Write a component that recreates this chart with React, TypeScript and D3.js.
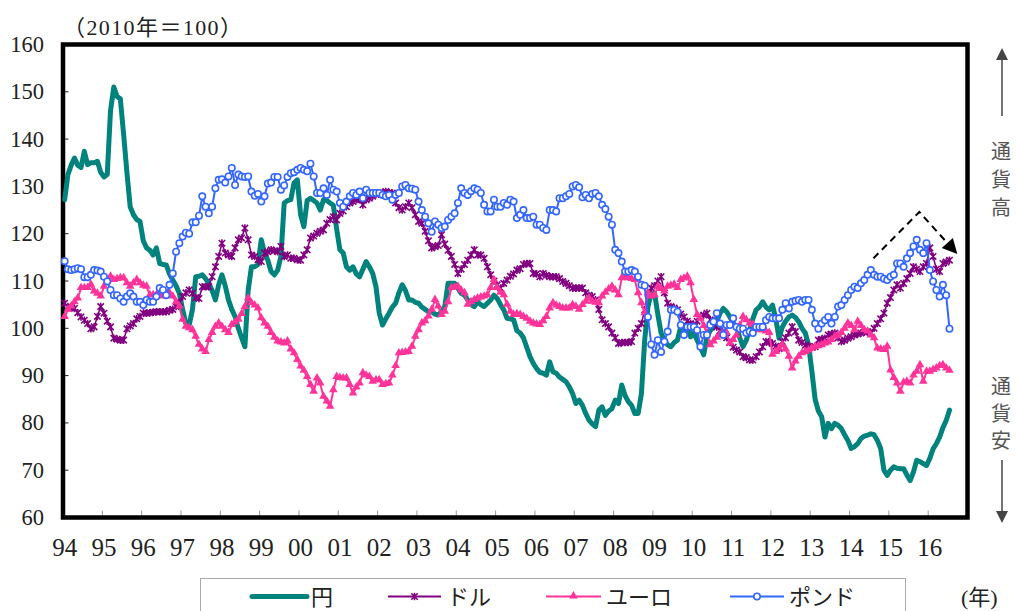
import React from "react";
import * as d3 from "d3";

// Monthly data, Jan 1994 – Jul 2016 (2010 = 100)
const yearLabels = ["94","95","96","97","98","99","00","01","02","03","04","05","06","07","08","09","10","11","12","13","14","15","16"];
const yTicks = [60, 70, 80, 90, 100, 110, 120, 130, 140, 150, 160];
const seriesNames = ["円", "ドル", "ユーロ", "ポンド"];

const yen = [
  127.2, 132.5, 134.5, 136, 134.5, 134, 137.4, 134.6, 135, 135, 135.3, 133,
  132, 132.5, 146, 151, 149, 148.5, 141, 133, 125.7, 124, 123, 122.6,
  118.5, 117, 116.5, 115.5, 117, 113.7, 113.5, 113.4, 111.5, 110.2, 109, 107.4,
  104, 101, 100.7, 104, 110.9, 111, 111.3, 110.5, 109.5, 108, 106, 109.2,
  111.3, 109, 106, 104, 102.5, 100, 98, 96.1, 108, 113, 113, 113.5,
  118.7, 116, 114.4, 112, 111.3, 112.3, 115.2, 126.5, 127, 127.2, 130.7, 131.4,
  124, 121.5, 127, 127.5, 127, 126.5, 125, 127.2, 127, 126.5, 126, 121,
  116.6, 115.9, 113, 112.3, 113, 111.5, 110.9, 112.5, 114.1, 113, 111.6, 108.8,
  103.2, 100.7, 102, 103.2, 104.5, 105.3, 107.5, 109.2, 108, 106, 106, 105.5,
  105.3, 104.5, 104, 103.5, 103.5, 103, 102.8, 103.5, 104.6, 109.5, 109.5, 109.5,
  108.5, 107.4, 107, 106, 105, 104.6, 105.6, 105, 104.6, 105.3, 106, 107,
  106.3, 105, 103.9, 102.1, 102, 101.8, 99.5, 99, 98, 96, 94, 92.6,
  91.5, 90.7, 90.5, 90.1, 92.9, 90.8, 90.5, 89.7, 89.2, 88.7, 87.6, 86.2,
  84.1, 84.8, 83.7, 82, 80.6, 79.8, 79.2, 82.7, 83.4, 81.6, 82.5, 83,
  84.8, 84.1, 88, 85.8, 84.5, 83.7, 82, 82, 86.2, 97.5, 104.6, 107.4,
  107.4, 103, 99, 97.5, 96.5, 96.1, 97, 97.5, 100.3, 99.3, 101, 98.2,
  99, 97.5, 96, 94.4, 98.2, 99.5, 100.3, 101.4, 103.2, 104.2, 103.5, 102.4,
  101, 100.5, 98, 96.1, 97.5, 99.6, 102, 103.9, 104.5, 105.6, 104.5, 103.9,
  104.9, 102, 97.9, 100.3, 101.5, 102.4, 102.8, 102.3, 101.4, 100, 99, 96.5,
  91, 85, 82.5, 81.3, 77, 79.9, 78.8, 79.9, 79.5, 78.8, 77.5, 76.3,
  74.6, 75, 75.6, 76.7, 77.2, 77.4, 77.7, 77.5, 76.3, 74.6, 70, 68.9,
  70, 70.7, 70.4, 70.3, 70.3, 69, 67.8, 69.6, 72.1, 71.8, 71.4, 71,
  72.5, 74.5, 75.6, 77, 79, 80.5, 82.7,
];

const usd = [
  105.3, 104.6, 104.4, 104.2, 103.3, 102.4, 101.7, 101, 99.9, 100.3, 102.5, 104.6,
  103.2, 101.5, 100.3, 97.9, 97.7, 97.5, 97.5, 99.9, 100.5, 101, 102, 102.5,
  103.2, 103.2, 103.3, 103.4, 103.5, 103.5, 103.5, 103.5, 103.8, 104, 104.6, 105.5,
  106.7, 107.5, 108.1, 107.4, 106.5, 106.3, 108.8, 108.8, 108.8, 110.9, 113, 115.2,
  118, 115.9, 115.5, 115.2, 117, 118.7, 119.1, 121.2, 118.7, 115.5, 115.2, 114.5,
  114.1, 115.9, 116.2, 116.6, 116.4, 116.2, 117.3, 115.2, 115.5, 114.8, 114.8, 114.5,
  114.4, 115.5, 116.6, 119.1, 119.5, 120.1, 120.5, 120.8, 122.2, 123, 123.6, 122.9,
  124.3, 124.8, 125.7, 126.5, 126.8, 127.2, 127.2, 126.1, 127.2, 127.5, 127.9, 128.3,
  128.5, 128.7, 128.9, 128.7, 128.6, 126.5, 125.5, 125, 125.7, 126.5, 125.5, 124,
  122.6, 122.2, 120.5, 118.5, 117, 117.3, 117.5, 119.8, 117.8, 116.5, 115.2, 113.5,
  111.6, 112.5, 113.5, 114.4, 115.5, 116.6, 115.5, 115.5, 114.8, 113, 111.3, 110,
  109.2, 108.5, 109.5, 110.2, 111, 111.5, 112.3, 112.6, 113.5, 113.7, 113.7, 111.6,
  111.5, 110.9, 111.6, 111.2, 110.9, 110.9, 110.9, 110.5, 109.9, 109.5, 109, 108.5,
  108.5, 108.5, 108.5, 107.5, 107, 106.7, 106, 104, 101.8, 101, 100.3, 99,
  98, 96.8, 97, 97, 97, 97.2, 99, 100, 101, 103.9, 107.4, 108.5,
  109, 110, 110.9, 107.5, 105.3, 104.6, 104.3, 103.9, 103, 102.4, 101.5, 101,
  100.7, 101.5, 102.4, 102.8, 103.2, 101.8, 101, 100.3, 99.5, 99, 98, 97,
  96, 95.4, 95, 94, 93.8, 93.3, 93.3, 94, 95, 96.1, 97.2, 97,
  96.8, 96.2, 95.7, 97.2, 98, 99, 100.3, 99.3, 97.5, 97, 96.4, 96.2,
  96, 96.1, 97.5, 97.7, 97.9, 98.6, 98.8, 99, 98, 97.2, 97.5, 97.9,
  98.2, 98.6, 98.8, 99, 99.2, 99.3, 99, 100, 101, 102, 103.2, 105.3,
  106.5, 108.1, 109.2, 108.5, 109.5, 110.5, 111.6, 113, 112.5, 112, 113, 113.7,
  117, 115.2, 112.5, 112, 113.7, 114, 114.4,
];

const euro = [
  102.4, 103.9, 104.6, 105.5, 106.3, 108.5, 108.5, 108.5, 109.2, 107.8, 107.3, 106.7,
  108.8, 110, 110.9, 110.2, 110.4, 110.6, 110.6, 109.5, 108.8, 109.5, 110.2, 109.5,
  109, 108.8, 107, 107, 107, 107, 106.7, 107, 107.4, 106.7, 105.5, 104.6,
  101.8, 100.3, 100, 99.6, 98.2, 96.5, 95.5, 95, 97.5, 99, 100.3, 101,
  100.3, 99.6, 99, 100.7, 101.2, 101.8, 103, 104.5, 106.3, 105.3, 104.8, 104.2,
  102.1, 101, 100.3, 99, 98, 97.2, 97, 96.8, 97.2, 95.5, 94.7, 93.3,
  91.9, 91, 89.7, 88, 86.6, 89.4, 88.3, 85.5, 84.5, 83.4, 86.9, 89.7,
  89.5, 89.4, 89.4, 88, 86.2, 87.5, 88.3, 90.5, 90, 89.7, 88.7, 89,
  89, 88, 88.2, 88.3, 90, 92, 94.7, 94.8, 94.9, 95, 96.1, 98.2,
  99.6, 101, 101.5, 102.5, 103.9, 106, 104.6, 102.8, 103.5, 105.5, 108.5, 108.6,
  108.8, 108, 107.4, 105, 105.5, 106, 106.3, 106.5, 106.7, 107, 108.5, 110.2,
  108.5, 107.5, 107, 105, 103.5, 102.8, 103, 102.8, 102.4, 102, 101.4, 101,
  100.8, 100.7, 101.5, 102.4, 104.2, 105.3, 104.8, 104.5, 104.2, 104.2, 104.2, 104.9,
  104.5, 103.9, 104.9, 105.6, 106.3, 105.6, 105.4, 105.3, 106.7, 107.5, 108.2, 108.8,
  108, 107, 110.6, 110.9, 110.6, 110.4, 110.2, 107.4, 105.3, 103.2, 107.4, 106.7,
  107, 108.8, 108.3, 107.8, 108.8, 109, 109.2, 108.5, 110.2, 110.5, 110.9, 109.5,
  106, 102.8, 102, 100.5, 99, 96.4, 97.2, 98, 98.6, 98.6, 99, 96.8,
  97.5, 98.5, 100.5, 102.4, 101.7, 101, 100.7, 100, 99.6, 99.6, 99.3, 99,
  94.4, 95, 95.7, 96.4, 95.5, 94, 91.5, 93, 94, 94.7, 95, 95.3,
  95.7, 96.1, 96.2, 96.4, 96.8, 97, 97.5, 98.2, 98.5, 99, 99.9, 101,
  100.5, 99.6, 101.4, 100.5, 99.6, 99.3, 98.5, 97.9, 95.7, 95.5, 95.4, 96.1,
  91.1, 89.5, 88.3, 86.6, 88.5, 88.7, 88.3, 90, 90.8, 92.2, 88.7, 90.8,
  90.8, 91.2, 91.5, 92, 92.2, 91.5, 91,
];

const pound = [
  114.2, 112.5, 112.3, 112.5, 112.7, 112.5, 110.8, 110.8, 111.3, 112.3, 112.2, 112,
  110.9, 109.9, 108.1, 107, 107, 106.3, 105.6, 106.7, 107.4, 106.7, 105.6, 105.6,
  104.9, 106, 105.6, 105.6, 106.7, 108.5, 108.1, 107, 109.2, 111.6, 116.2, 118,
  119.4, 120.2, 120, 122.4, 122.4, 123.8, 127.9, 125.7, 124.3, 125.7, 129.6, 131.4,
  131.5, 130.8, 132.1, 133.9, 130.3, 132.5, 132.1, 132, 132.1, 128.9, 128, 128.4,
  126.8, 127.9, 130.6, 130.8, 132, 132, 129.3, 130.2, 132, 132.8, 133, 133.5,
  133.9, 133.5, 133.2, 134.8, 132.1, 128.6, 128.6, 129.6, 128.2, 131.4, 129.3, 128.9,
  126.5, 125.7, 126.8, 127.9, 128.6, 128.2, 128.9, 127.5, 129.3, 128.6, 128.6, 128.6,
  128.6, 128.2, 127.9, 128.2, 127.2, 128.2, 128.6, 130, 130.3, 129.6, 129.5, 129.3,
  126.8, 125, 123.6, 122.2, 120.4, 122.6, 121.9, 121.2, 121.5, 122.9, 123.6, 124.3,
  126.5, 129.6, 128.6, 128.2, 129, 129.6, 129.3, 128.6, 126.1, 124.7, 124.7, 127.2,
  125.7, 125.7, 126.5, 126.1, 127.2, 126.8, 123.3, 124, 125, 123.3, 123.3, 123.6,
  121.9, 121.9, 121.2, 120.8, 125, 125, 124.7, 127.5, 127.5, 127.9, 128.4, 130,
  130.3, 129.8, 127.7, 128.2, 127.5, 128.4, 128.6, 127.9, 126.1, 125.2, 123.6, 121.9,
  116.6, 115.9, 114.1, 112, 112, 112.3, 112, 110.9, 109.2, 109, 102.4, 96.6,
  94.4, 97.5, 95, 97.2, 99.3, 103.9, 103.9, 103.5, 100.7, 98.6, 100.3, 100.3,
  100.3, 99.6, 96.1, 98.6, 98.6, 100.7, 101.4, 103.2, 101, 98.6, 100.7, 100.7,
  102.1, 100.3, 99.9, 99.9, 99, 99.3, 99, 100.3, 100.3, 100.3, 101.7, 102.4,
  102.1, 102.1, 102.1, 103.9, 105.3, 104.2, 105.6, 105.8, 106, 105.6, 106, 106,
  103.9, 101, 99.9, 101, 101.7, 102.4, 101, 102.4, 104.6, 104.9, 106, 107,
  108.1, 108.8, 108.5, 109.5, 110.2, 111.3, 112.3, 111.3, 110.9, 110.9, 110.5, 110.2,
  110.9, 111.3, 113.7, 113.7, 113, 114.8, 115.9, 117.3, 118.7, 116.6, 115.9, 118,
  112.3, 109.9, 108.1, 106.7, 109.2, 107, 99.9,
];

// Dashed annotation arrow (month index, value)
const annoMonths = [247.3, 261.3, 272.9];
const annoValues = [114.8, 124.6, 115.7];

const upLabel = ["通", "貨", "高"];
const downLabel = ["通", "貨", "安"];

const COLORS = ["#00827D", "#800080", "#FF3399", "#3366FF"];
const SERIF = "'Liberation Serif', 'Noto Sans CJK JP', serif";
const CJK = "'Noto Sans CJK JP', sans-serif";

const starPath = "M-3.2,-3.2L3.2,3.2M-3.2,3.2L3.2,-3.2M0,-3.8V3.8";
const triPath = d3.symbol().type(d3.symbolTriangle).size(32)() as string;

export default function App() {
  const W = 1016, H = 611;
  const left = 63, right = 967.5, top = 44.5, bottom = 517.5;
  const totalMonths = yearLabels.length * 12;
  const x = d3.scaleLinear().domain([0, totalMonths]).range([left, right]);
  const y = d3.scaleLinear().domain([60, 160]).range([bottom, top]);
  const line = d3.line<number>().x((_, i) => x(i + 0.5)).y((v) => y(v));

  // annotation
  const ap = annoMonths.map((m, i) => [x(m), y(annoValues[i])] as [number, number]);
  const [tx, ty] = ap[2];
  const [px, py] = ap[1];
  const dx = tx - px, dy = ty - py;
  const len = Math.hypot(dx, dy);
  const ux = dx / len, uy = dy / len;
  const headL = 15, headW = 7.5;
  const bx = tx - ux * headL, by = ty - uy * headL;
  const head = `M${tx},${ty}L${bx - uy * headW},${by + ux * headW}L${bx + uy * headW},${by - ux * headW}Z`;
  const annoLine = d3.line()([ap[0], ap[1], [bx + ux * 2, by + uy * 2]]) as string;

  const legendItems = [
    { x0: 252, x1: 307, tx: 311 },
    { x0: 388, x1: 441, tx: 447 },
    { x0: 546, x1: 601, tx: 606 },
    { x0: 730, x1: 784, tx: 789 },
  ];
  const ly = 596.5;

  return (
    <svg width={W} height={H} style={{ position: "absolute", left: 0, top: 0, background: "#fff" }}>
      <rect x={0} y={0} width={W} height={H} fill="#fff" />
      {/* unit label */}
      <text x={63} y={35} fontFamily={SERIF} fontSize={22} letterSpacing={1.4} fill="#222">（2010年＝100）</text>

      {/* y axis labels and ticks */}
      {yTicks.map((t) => (
        <g key={t}>
          <text x={44} y={y(t) + 7.5} textAnchor="end" fontFamily={SERIF} fontSize={22.5} fill="#222">{t}</text>
          <line x1={left} x2={left + 5.5} y1={y(t)} y2={y(t)} stroke="#222" strokeWidth={1} />
        </g>
      ))}

      {/* x axis ticks and labels */}
      {yearLabels.map((lab, k) => (
        <g key={lab}>
          {k > 0 && (
            <line x1={x(k * 12)} x2={x(k * 12)} y1={bottom} y2={bottom - 7} stroke="#999" strokeWidth={1} />
          )}
          <text x={x(k * 12 + 0.5)} y={556} textAnchor="middle" fontFamily={SERIF} fontSize={25} fill="#222">{lab}</text>
        </g>
      ))}

      {/* plot border */}
      <rect x={left} y={top} width={right - left} height={bottom - top} fill="none" stroke="#000" strokeWidth={4.5} />

      {/* 円 */}
      <path d={line(yen) as string} fill="none" stroke={COLORS[0]} strokeWidth={5} strokeLinejoin="round" strokeLinecap="round" />

      {/* ドル */}
      <path d={line(usd) as string} fill="none" stroke={COLORS[1]} strokeWidth={1.6} strokeLinejoin="round" />
      {usd.map((v, i) => (
        <path key={i} d={starPath} transform={`translate(${x(i + 0.5)},${y(v)})`} stroke={COLORS[1]} strokeWidth={1.6} fill="none" />
      ))}

      {/* ユーロ */}
      <path d={line(euro) as string} fill="none" stroke={COLORS[2]} strokeWidth={2} strokeLinejoin="round" />
      {euro.map((v, i) => (
        <path key={i} d={triPath} transform={`translate(${x(i + 0.5)},${y(v) - 0.5})`} fill={COLORS[2]} />
      ))}

      {/* ポンド */}
      <path d={line(pound) as string} fill="none" stroke={COLORS[3]} strokeWidth={2} strokeLinejoin="round" />
      {pound.map((v, i) => (
        <circle key={i} cx={x(i + 0.5)} cy={y(v)} r={3.2} fill="#fff" stroke={COLORS[3]} strokeWidth={1.6} />
      ))}

      {/* dashed annotation arrow */}
      <path d={annoLine} fill="none" stroke="#000" strokeWidth={2} strokeDasharray="7,5" />
      <path d={head} fill="#000" />

      {/* right side arrows and labels */}
      <line x1={1002} x2={1002} y1={116} y2={58} stroke="#444" strokeWidth={1.5} />
      <path d="M1002,48L996,60L1008,60Z" fill="#444" />
      <text textAnchor="middle" fontFamily={CJK} fontSize={20} fill="#555">
        {upLabel.map((c, i) => (
          <tspan key={i} x={1001} y={159 + i * 28}>{c}</tspan>
        ))}
      </text>
      <text textAnchor="middle" fontFamily={CJK} fontSize={20} fill="#555">
        {downLabel.map((c, i) => (
          <tspan key={i} x={1001} y={394 + i * 27}>{c}</tspan>
        ))}
      </text>
      <line x1={1002} x2={1002} y1={460} y2={513} stroke="#444" strokeWidth={1.5} />
      <path d="M1002,523L996,511L1008,511Z" fill="#444" />

      {/* legend */}
      <rect x={200.5} y={578.5} width={705} height={40} fill="#fff" stroke="#aaa" strokeWidth={1} />
      {legendItems.map((it, i) => (
        <g key={i}>
          <line x1={it.x0} x2={it.x1} y1={ly} y2={ly} stroke={COLORS[i]} strokeWidth={i === 0 ? 5 : 2} strokeLinecap={i === 0 ? "round" : "butt"} />
          {i === 1 && <path d={starPath} transform={`translate(${(it.x0 + it.x1) / 2},${ly})`} stroke={COLORS[1]} strokeWidth={1.6} fill="none" />}
          {i === 2 && <path d={triPath} transform={`translate(${(it.x0 + it.x1) / 2},${ly - 0.5})`} fill={COLORS[2]} />}
          {i === 3 && <circle cx={(it.x0 + it.x1) / 2} cy={ly} r={3.2} fill="#fff" stroke={COLORS[3]} strokeWidth={1.6} />}
          <text x={it.tx} y={605} fontFamily={CJK} fontSize={22} fill="#222">{seriesNames[i]}</text>
        </g>
      ))}
      <text x={961} y={605} fontFamily={SERIF} fontSize={22} fill="#222">(年)</text>
    </svg>
  );
}
